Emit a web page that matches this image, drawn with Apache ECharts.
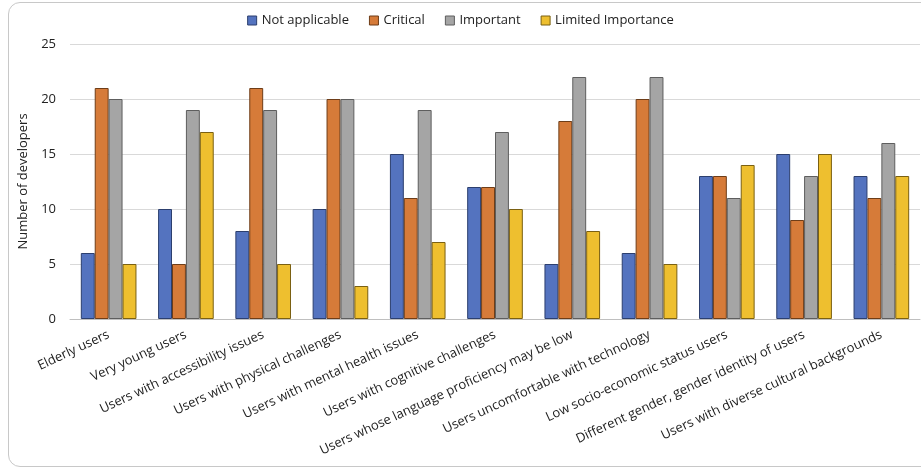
<!DOCTYPE html>
<html><head><meta charset="utf-8">
<script src="https://cdn.jsdelivr.net/npm/echarts@6/dist/echarts.min.js"></script>
<style>
html,body{margin:0;padding:0;background:#fff;}
#frame{position:absolute;left:8px;top:2px;width:940px;height:465px;border:1px solid #c8c8c8;border-radius:12px;box-sizing:border-box;}
#c{position:absolute;left:0;top:0;width:921px;height:470px;}
</style></head>
<body>
<div id="frame"></div>
<div id="c"></div>
<script>
const categories = ["Elderly users","Very young users","Users with accessibility issues","Users with physical challenges","Users with mental health issues","Users with cognitive challenges","Users whose language proficiency may be low","Users uncomfortable with technology","Low socio-economic status users","Different gender, gender identity of users","Users with diverse cultural backgrounds"];
const seriesNames = ["Not applicable","Critical","Important","Limited Importance"];
const notApplicable = [6,10,8,10,15,12,5,6,13,15,13];
const critical = [21,5,21,20,11,12,18,20,13,9,11];
const important = [20,19,19,20,19,17,22,22,11,13,16];
const limitedImportance = [5,17,5,3,7,10,8,5,14,15,13];
const yTicks = [0,5,10,15,20,25];

const colors = ["#5473BF","#D67B39","#A5A5A5","#EEBF2F"];
const borders = ["#2c3f6e","#6e3d18","#5e5e5e","#7a6012"];
const allData = [notApplicable, critical, important, limitedImportance];
const font = "'Open Sans', 'Noto Sans', sans-serif";

const chart = echarts.init(document.getElementById('c'));
chart.setOption({
  animation:false,
  textStyle:{fontFamily:font},
  legend:{
    top:9, left:'center',
    itemWidth:9, itemHeight:9, itemGap:20,
    textStyle:{fontSize:13,color:'#222',fontFamily:font},
    data:seriesNames.map((n,i)=>({name:n,icon:'rect',itemStyle:{color:colors[i],borderColor:borders[i],borderWidth:1}}))
  },
  grid:{left:70,right:1,top:44,bottom:151},
  xAxis:{
    type:'category', data:categories,
    axisLine:{lineStyle:{color:'#bfbfbf'}},
    axisTick:{show:false},
    axisLabel:{rotate:25,interval:0,fontSize:13,color:'#222',margin:15,fontFamily:font}
  },
  yAxis:{
    type:'value', min:0, max:25, interval:5,
    name:'Number of developers', nameLocation:'middle', nameGap:27,
    nameTextStyle:{fontSize:13,color:'#222',fontFamily:font},
    axisLine:{show:false}, axisTick:{show:false},
    axisLabel:{fontSize:13,color:'#222',margin:14,formatter:v=>yTicks.includes(v)?String(v):''},
    splitLine:{lineStyle:{color:'#d9d9d9',width:1}}
  },
  series: seriesNames.map((n,i)=>({
    name:n, type:'bar', data:allData[i],
    barGap:'0%', barCategoryGap:'28%',
    itemStyle:{color:colors[i],borderColor:borders[i],borderWidth:1}
  }))
});
</script>
</body></html>
